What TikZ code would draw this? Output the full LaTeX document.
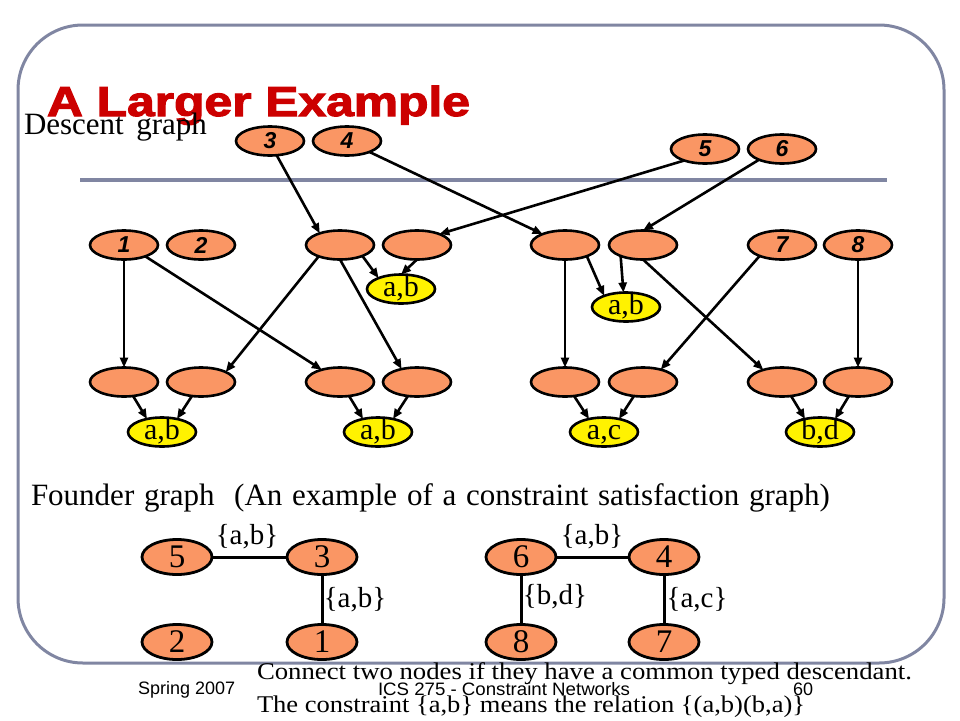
\documentclass[tikz,border=0pt]{standalone}
\usepackage{fontspec}
\usepackage{graphicx}
\setmainfont{Liberation Serif}
\newfontfamily\sansf{Liberation Sans}
\newfontfamily\titlef{Liberation Sans}[BoldFeatures={FakeBold=2.5}]
\usetikzlibrary{shapes.geometric,arrows.meta}
\definecolor{framecol}{RGB}{128,134,162}
\definecolor{myorange}{RGB}{250,150,100}
\definecolor{titlered}{RGB}{204,0,0}
\newcommand{\ytext}[1]{\makebox[0pt]{\smash{\raisebox{-7pt}{#1}}}}
\begin{document}
\begin{tikzpicture}[x=1pt,y=-1pt,
  every node/.style={inner sep=0pt, outer sep=0pt},
  dnode/.style={ellipse, draw=black, line width=2.6pt, fill=myorange,
    minimum width=68pt, minimum height=29pt,
    font=\sansf\bfseries\itshape\fontsize{23}{23}\selectfont},
  ynode/.style={dnode, fill=yellow, font=\fontsize{30}{30}\selectfont},
  fnode/.style={ellipse, draw=black, line width=2.8pt, fill=myorange,
    minimum width=70pt, minimum height=35pt,
    font=\fontsize{33}{33}\selectfont},
  arr/.style={line width=2.6pt, -{Triangle[length=10pt,width=8pt]}},
  fedge/.style={line width=3pt},
  flabel/.style={font=\fontsize{29}{29}\selectfont},
  foot/.style={anchor=base west, font=\sansf\fontsize{18}{18}\selectfont}
]
\useasboundingbox (0,0) rectangle (960,720);
% frame and separator
\draw[framecol, line width=3pt, rounded corners=65pt] (18,25) rectangle (944,663);
\draw[framecol, line width=4pt] (80,180) -- (887,180);

% title and headings
\node[anchor=base west, font=\titlef\bfseries\fontsize{42}{42}\selectfont]
  (title) at (47,116) {\color{titlered}\resizebox{423pt}{\height}{A Larger Example}};
\node[anchor=base west, font=\fontsize{31}{31}\selectfont] (desc) at (24,134)
  {\makebox[183pt][s]{Descent graph}};

% descent graph nodes
\node[dnode] (n3) at (270,141) {3};
\node[dnode] (n4) at (347,141) {4};
\node[dnode] (n5) at (705,149) {5};
\node[dnode] (n6) at (782,149) {6};

\node[dnode] (n1) at (124,245) {1};
\node[dnode] (n2) at (201,245) {2};
\node[dnode] (A)  at (340,245) {};
\node[dnode] (B)  at (417,245) {};
\node[dnode] (C)  at (565,245) {};
\node[dnode] (D)  at (643,245) {};
\node[dnode] (n7) at (782,245) {7};
\node[dnode] (n8) at (858,245) {8};

\node[ynode] (y1) at (401,289) {\ytext{a,b}};
\node[ynode] (y2) at (626,307) {\ytext{a,b}};

\foreach \i/\x in {1/124,2/201,3/340,4/417,5/565,6/643,7/782,8/858}
  \node[dnode] (r\i) at (\x,382) {};

\node[ynode] (ya) at (162,432) {\ytext{a,b}};
\node[ynode] (yb) at (378,432) {\ytext{a,b}};
\node[ynode] (yc) at (604,432) {\ytext{a,c}};
\node[ynode] (yd) at (820,432) {\ytext{b,d}};

% descent graph arrows
\draw[arr] (n3.-65) -- (A.150);
\draw[arr] (n4.-26) -- (C.154);
\draw[arr] (n5.-151) -- (B.26);
\draw[arr] (n6.-155) -- (D.north);
\draw[arr] (n1.south) -- (r1.north);
\draw[arr] (n1.-28) -- (r3.146);
\draw[arr] (A.-152) -- (r2.22);
\draw[arr] (A.south) -- (r4.140);
\draw[arr] (A.-26) -- (y1.154);
\draw[arr] (B.south) -- (y1.north);
\draw[arr] (C.south) -- (r5.north);
\draw[arr] (C.-27) -- (y2.153);
\draw[arr] (D.-154) -- (y2.100);
\draw[arr] (D.south) -- (r7.147);
\draw[arr] (n7.-154) -- (r6.35);
\draw[arr] (n8.south) -- (r8.north);

\draw[arr] (r1.-57) -- (ya.139);
\draw[arr] (r2.-123) -- (ya.41);
\draw[arr] (r3.-57) -- (yb.139);
\draw[arr] (r4.-123) -- (yb.41);
\draw[arr] (r5.-57) -- (yc.139);
\draw[arr] (r6.-123) -- (yc.41);
\draw[arr] (r7.-57) -- (yd.139);
\draw[arr] (r8.-123) -- (yd.41);

% founder graph
\node[anchor=base west, font=\fontsize{31}{31}\selectfont] (fhead) at (31,505)
  {\makebox[799pt][s]{Founder graph \ (An example of a constraint satisfaction graph)}};

\node[fnode] (f5) at (177,557) {5};
\node[fnode] (f3) at (322,557) {3};
\node[fnode] (f6) at (521,557) {6};
\node[fnode] (f4) at (664,557) {4};
\node[fnode] (f2) at (177,642) {2};
\node[fnode] (f1) at (322,642) {1};
\node[fnode] (f8) at (521,642) {8};
\node[fnode] (f7) at (664,642) {7};

\draw[fedge] (f5) -- (f3);
\draw[fedge] (f3) -- (f1);
\draw[fedge] (f6) -- (f4);
\draw[fedge] (f6) -- (f8);
\draw[fedge] (f4) -- (f7);

\node[flabel] (l53) at (247,537) {\{a,b\}};
\node[flabel] (l31) at (355,600) {\{a,b\}};
\node[flabel] (l64) at (592,537) {\{a,b\}};
\node[flabel] (l68) at (555,597) {\{b,d\}};
\node[flabel] (l47) at (697,600) {\{a,c\}};

% bottom text
\node[anchor=base west, font=\fontsize{24}{24}\selectfont] (t1) at (257,679)
  {\resizebox{655pt}{\height}{Connect two nodes if they have a common typed descendant.}};
\node[anchor=base west, font=\fontsize{24}{24}\selectfont] (t2) at (257,712)
  {\resizebox{548pt}{\height}{The constraint \{a,b\} means the relation \{(a,b)(b,a)\}}};

% footer
\node[foot] (spring) at (138,694) {Spring 2007};
\node[foot] (course) at (378,695) {\resizebox{252pt}{\height}{ICS 275 - Constraint Networks}};
\node[foot] (page) at (793,695) {60};
\end{tikzpicture}
\end{document}
